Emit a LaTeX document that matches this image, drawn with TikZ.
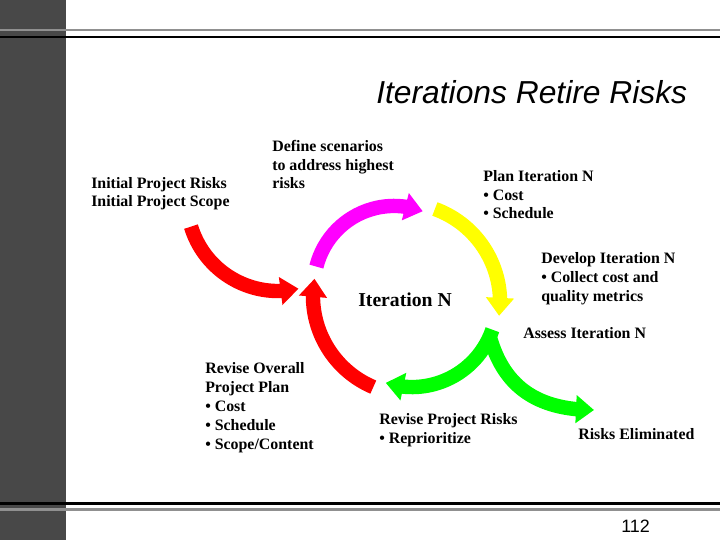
\documentclass[tikz,border=0pt]{standalone}
\usepackage{fontspec}
\setmainfont{Liberation Serif}
\newfontfamily\slidesans{Liberation Sans}
\usetikzlibrary{arrows.meta,bending}
\definecolor{itRed}{HTML}{FF0000}
\definecolor{itMagenta}{HTML}{FF00FF}
\definecolor{itYellow}{HTML}{FFFF00}
\definecolor{itGreen}{HTML}{00FF00}
\definecolor{itBar}{HTML}{484848}
\definecolor{itRule}{HTML}{909090}
\newcommand{\itShaftW}{0.36cm}
\newcommand{\itRuleW}{2.1pt}
\newcommand{\itRuleWthin}{1.5pt}
\tikzset{
  itbody/.style={font=\fontsize{11.3}{13.5}\selectfont\bfseries, align=left,
    inner sep=0pt, anchor=base west},
  itflow/.style={line width=\itShaftW, -{Triangle[width=0.675cm, length=0.45cm]}},
}

\begin{document}
\begin{tikzpicture}[x=0.025cm, y=0.025cm]
  \useasboundingbox (0,0) rectangle (720,540);

  % ===== Slide frame =====
  \fill[itBar] (0,0) rectangle (66,540);
  \draw[itRule, line width=\itRuleW] (0,510) -- (720,510);
  \draw[black, line width=\itRuleWthin] (0,503) -- (720,503);
  \draw[black, line width=\itRuleWthin] (0,36.5) -- (720,36.5);
  \draw[itRule, line width=\itRuleW] (0,30.2) -- (720,30.2);

  \node[font=\slidesans\itshape\fontsize{22.6}{27}\selectfont, anchor=base west, inner sep=0pt]
    (title) at (376,436) {Iterations Retire Risks};
  \node[font=\slidesans\fontsize{12.75}{15}\selectfont, anchor=base west, inner sep=0pt]
    (pagenum) at (621,8) {112};

  % ===== Cycle arrows =====
  \coordinate (initTail) at (191,313.4);
  \coordinate (defineTail) at (316.4,273.4);
  \coordinate (planTail) at (434.9,331);
  \coordinate (assessTail) at (492.4,210.3);
  \coordinate (assessFork) at (489.7,203.4);
  \coordinate (elimTip) at (594,130);
  \coordinate (reviseTail) at (373.3,152.9);

  \draw[itflow, itRed] (initTail) arc[start angle=197, end angle=283, radius=2.275cm];
  \draw[itflow, itMagenta] (defineTail) arc[start angle=166, end angle=69, radius=2cm];
  \draw[itflow, itYellow] (planTail) arc[start angle=70, end angle=-8, radius=2.475cm];
  \draw[itflow, itGreen] (assessTail) arc[start angle=-19, end angle=-108, radius=2.125cm];
  \draw[itflow, itGreen] (assessFork) .. controls (502,160) and (530,130) .. (elimTip);
  \draw[itflow, itRed] (reviseTail) arc[start angle=247, end angle=170, radius=2.475cm];

  % ===== Labels (anchored on the last line's baseline) =====
  \node[font=\fontsize{14}{17}\selectfont\bfseries, anchor=base west, inner sep=0pt]
    (iterN) at (358,233.5) {Iteration N};
  \node[itbody] (initial) at (91,333) {Initial Project Risks\\Initial Project Scope};
  \node[itbody] (define) at (272,351) {Define scenarios\\to address highest\\risks};
  \node[itbody] (plan) at (483,321) {Plan Iteration N\\\textbullet\ Cost\\\textbullet\ Schedule};
  \node[itbody] (develop) at (541,239)
    {Develop Iteration N\\\textbullet\ Collect cost and\\quality metrics};
  \node[itbody] (assess) at (523,202) {Assess Iteration N};
  \node[itbody] (reviseplan) at (205,91)
    {Revise Overall\\Project Plan\\\textbullet\ Cost\\\textbullet\ Schedule\\\textbullet\ Scope/Content};
  \node[itbody] (reviserisks) at (379,97) {Revise Project Risks\\\textbullet\ Reprioritize};
  \node[itbody] (eliminated) at (578,101) {Risks Eliminated};
\end{tikzpicture}
\end{document}
